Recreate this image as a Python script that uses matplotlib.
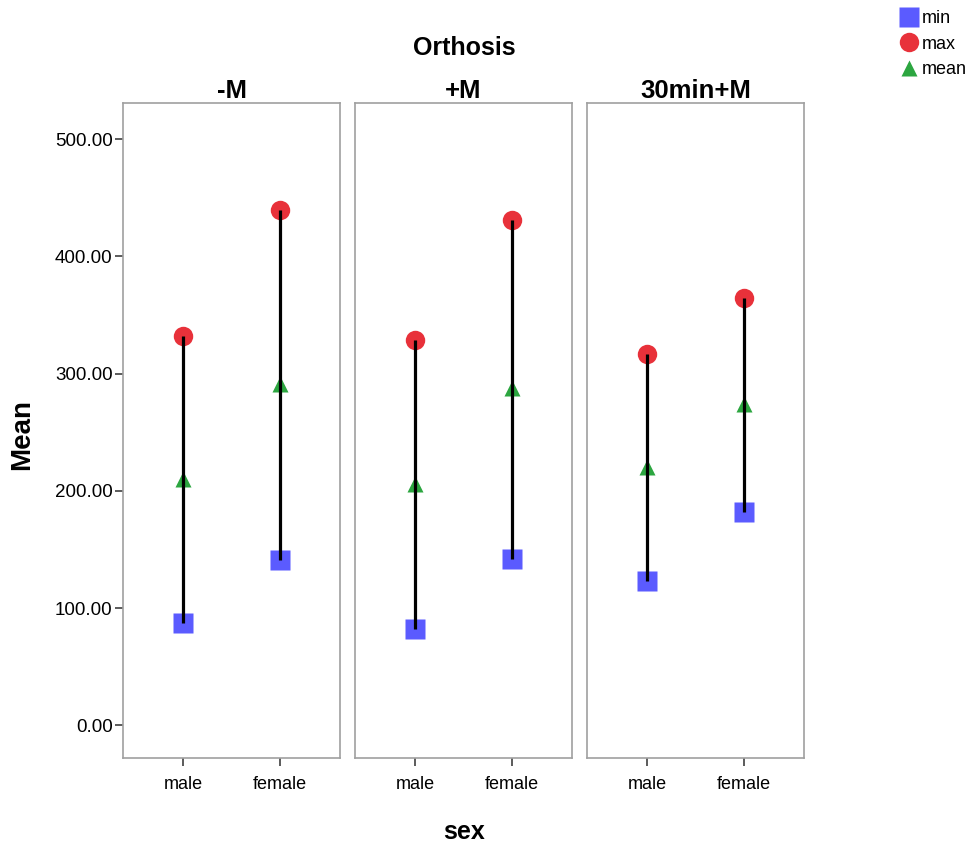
import numpy as np
import matplotlib as mpl
mpl.use('Agg')
import matplotlib.pyplot as plt
from matplotlib.lines import Line2D

plt.rcParams['font.family'] = ['Liberation Sans', 'DejaVu Sans']

# data
panels = ['-M', '+M', '30min+M']
sexes = ['male', 'female']
minVals = [[87, 141], [82, 142], [123, 182]]
maxVals = [[332, 440], [329, 431], [317, 365]]
meanVals = [[210, 291], [206, 288], [220, 274]]
yticks = [0, 100, 200, 300, 400, 500]

cMin = '#5b5bff'
cMax = '#e8313a'
cMean = '#2ca640'
frameCol = '#a0a0a0'

W, H = 971.0, 843.0
fig = plt.figure(figsize=(9.71, 8.43), dpi=100)
lefts = [123, 355, 587]
for i, name in enumerate(panels):
    ax = fig.add_axes([lefts[i] / W, 1 - 758 / H, 217 / W, 655 / H])
    x = np.arange(len(sexes))
    # min-max range lines, drawn above the markers
    for j in x:
        ax.plot([j, j], [minVals[i][j], maxVals[i][j]], color='black', lw=2.3, zorder=4,
                solid_capstyle='butt')
    ax.plot(x, minVals[i], 's', color=cMin, ms=14, mec='none', zorder=3)
    ax.plot(x, maxVals[i], 'o', color=cMax, ms=14, mec='none', zorder=3)
    ax.plot(x, meanVals[i], '^', color=cMean, ms=12, mec='none', zorder=3)
    ax.set_xlim(-0.62, 1.62)
    ax.set_ylim(-28, 531)
    ax.set_xticks(x)
    ax.set_xticklabels(sexes, fontsize=13)
    ax.tick_params(axis='x', length=6, width=1.2, color='#404040', pad=7)
    for sp in ax.spines.values():
        sp.set_color(frameCol)
        sp.set_linewidth(1.2)
    ax.set_title(name, fontsize=18.5, fontweight='bold', pad=2)
    if i == 0:
        ax.set_yticks(yticks)
        ax.set_yticklabels(['{:.2f}'.format(v) for v in yticks], fontsize=13.5)
        ax.tick_params(axis='y', length=6, width=1.2, color='#404040', pad=1.5)
    else:
        ax.set_yticks([])

fig.text(464 / W, 1 - 48 / H, 'Orthosis', ha='center', va='center',
         fontsize=18, fontweight='bold')
fig.text(464 / W, 1 - 832 / H, 'sex', ha='center', va='center',
         fontsize=18, fontweight='bold')
fig.text(22 / W, 1 - 434 / H, 'Mean', ha='center', va='center', rotation=90,
         fontsize=20, fontweight='bold')

handles = [Line2D([], [], ls='none', marker='s', color=cMin, ms=14, mec='none'),
           Line2D([], [], ls='none', marker='o', color=cMax, ms=14, mec='none'),
           Line2D([], [], ls='none', marker='^', color=cMean, ms=12, mec='none')]
fig.legend(handles, ['min', 'max', 'mean'], loc='upper left',
           bbox_to_anchor=(900 / W, 1 - 10 / H), frameon=False, fontsize=13,
           handlelength=1.0, handletextpad=0.2, labelspacing=0.48, borderpad=0,
           borderaxespad=0)

plt.savefig('out.png', dpi=100)
